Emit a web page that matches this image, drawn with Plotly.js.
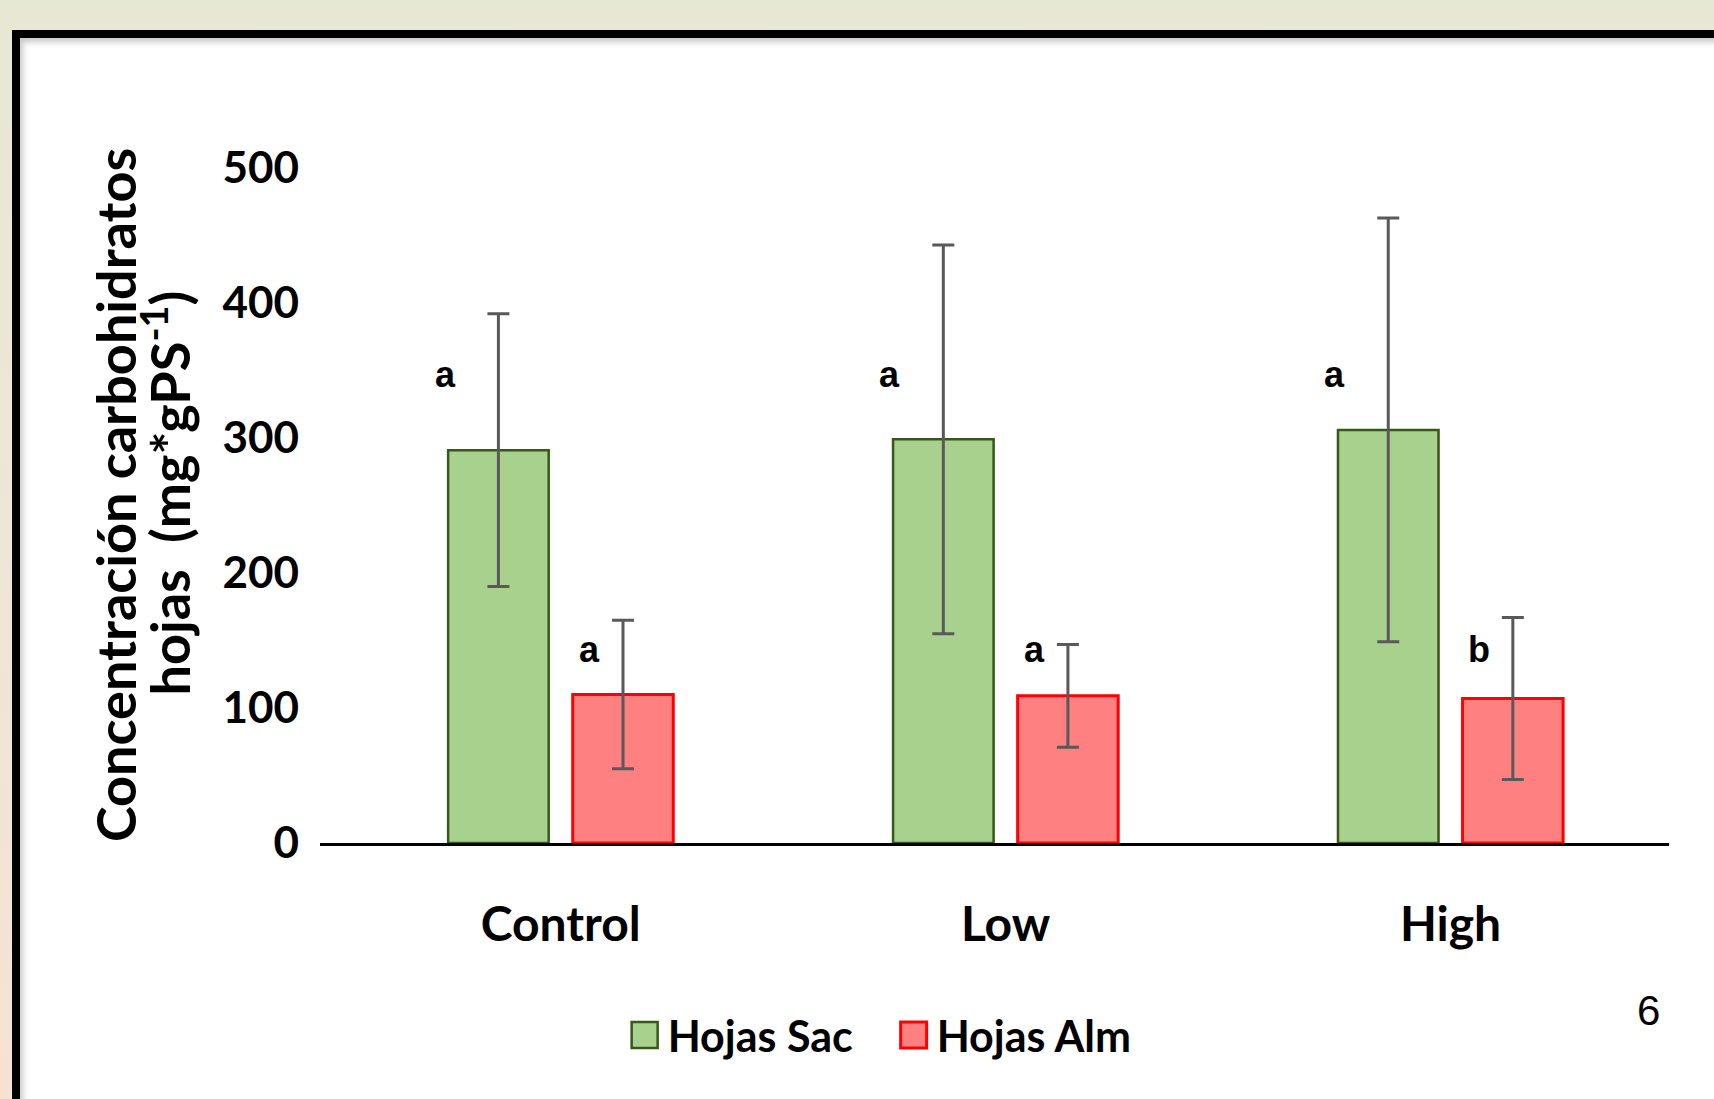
<!DOCTYPE html>
<html>
<head>
<meta charset="utf-8">
<script src="https://cdn.plot.ly/plotly-3.0.1.min.js"></script>
<style>
  html, body { margin: 0; padding: 0; width: 1714px; height: 1099px; overflow: hidden; }
  body { background: linear-gradient(to bottom, #E7E8D4 0%, #EEE6D6 50%, #F6E2D3 100%); position: relative; }
  #frame { position: absolute; left: 12px; top: 30px; width: 1702px; height: 1069px;
           border-left: 8px solid #000; border-top: 8px solid #000; background: #fff;
           box-shadow: inset 3px 4px 6px rgba(0,0,0,0.22); box-sizing: content-box; }
  #chart { position: absolute; left: 0; top: 0; width: 1694px; height: 1061px; }
</style>
</head>
<body>
<div id="frame"><div id="chart"></div></div>
<script>
// ---- data ----
const categories = ['Control', 'Low', 'High'];
const seriesNames = ['Hojas Sac', 'Hojas Alm'];
const sacValues = [291, 299, 306];
const sacErrors = [101, 144, 157];
const almValues = [110, 109, 107];
const almErrors = [55, 38, 60];
const sacLetters = ['a', 'a', 'a'];
const almLetters = ['a', 'a', 'b'];
const yTicks = [0, 100, 200, 300, 400, 500];
const yTitleLines = ['Concentración carbohidratos', 'hojas  (mg*gPS<sup>-1</sup>)'];
const pageNumber = '6';

// ---- style ----
const barWidth = 0.226;
const errStyle = { type: 'data', visible: true, color: '#595959', thickness: 3, width: 11 };
const xIdx = categories.map((c, i) => i);

const traces = [
  {
    type: 'bar', name: seriesNames[0], x: xIdx, y: sacValues,
    width: barWidth, offset: -0.253,
    marker: { color: '#A9D18E', line: { color: '#38571A', width: 2.5 } },
    error_y: Object.assign({ array: sacErrors }, errStyle)
  },
  {
    type: 'bar', name: seriesNames[1], x: xIdx, y: almValues,
    width: barWidth, offset: 0.027,
    marker: { color: '#FF8080', line: { color: '#FF0000', width: 3 } },
    error_y: Object.assign({ array: almErrors }, errStyle)
  }
];

const annotations = [];
const letterFont = { family: 'Liberation Sans, Arial, sans-serif', size: 36, color: '#000', weight: 'bold' };
sacLetters.forEach((t, i) => annotations.push({
  xref: 'x', yref: 'y', x: i - 0.26, y: 347, text: '<b>' + t + '</b>', showarrow: false, font: letterFont
}));
almLetters.forEach((t, i) => annotations.push({
  xref: 'x', yref: 'y', x: i + 0.064, y: 143, text: '<b>' + t + '</b>', showarrow: false, font: letterFont
}));
const titleFont = { family: 'Lato, sans-serif', size: 54, color: '#000', weight: 'bold' };
annotations.push({
  xref: 'paper', yref: 'paper', x: -0.177, y: -0.002, yanchor: 'bottom', textangle: -90, showarrow: false,
  text: '<b>' + yTitleLines[0] + '</b>', font: titleFont
});
annotations.push({
  xref: 'paper', yref: 'paper', x: -0.1415, y: 0.215, yanchor: 'bottom', textangle: -90, showarrow: false,
  text: '<b>' + yTitleLines[1].replace('  ', '\u00a0\u00a0') + '</b>', font: titleFont
});
annotations.push({
  xref: 'paper', yref: 'paper', x: 0.9947, y: -0.2856, showarrow: false,
  text: pageNumber, font: { family: 'Liberation Sans, Arial, sans-serif', size: 42, color: '#000' }
});

const layout = {
  width: 1694, height: 1061,
  margin: { l: 300, r: 45, t: 130, b: 256 },
  paper_bgcolor: 'rgba(0,0,0,0)', plot_bgcolor: 'rgba(0,0,0,0)',
  showlegend: true,
  legend: {
    orientation: 'h', xref: 'container', yref: 'container',
    x: 0.5175, xanchor: 'center', y: 0.0603, yanchor: 'middle',
    font: { family: 'Lato, sans-serif', size: 43, color: '#000', weight: 'bold' },
    entrywidth: 224, itemclick: false, bgcolor: 'rgba(0,0,0,0)'
  },
  xaxis: {
    type: 'linear', range: [-0.541, 2.491],
    tickmode: 'array', tickvals: xIdx, ticktext: categories,
    showline: true, linecolor: '#000', linewidth: 3, ticks: '',
    showgrid: false, zeroline: false, ticklabelstandoff: 37,
    tickfont: { family: 'Lato, sans-serif', size: 48, color: '#000', weight: 'bold' }
  },
  yaxis: {
    range: [0, 500], tickmode: 'array', tickvals: yTicks,
    showline: false, showgrid: false, zeroline: false, ticks: '',
    ticklabelstandoff: 20,
    tickfont: { family: 'Lato, sans-serif', size: 44, color: '#000', weight: 'bold' }
  },
  annotations: annotations
};

Plotly.newPlot('chart', traces, layout, { displayModeBar: false, staticPlot: true }).then(gd => {
  gd.querySelectorAll('.legend .legendpoints path').forEach(p => {
    p.setAttribute('d', 'M10,13H-16V-13H10Z');
  });
});
</script>
</body>
</html>
